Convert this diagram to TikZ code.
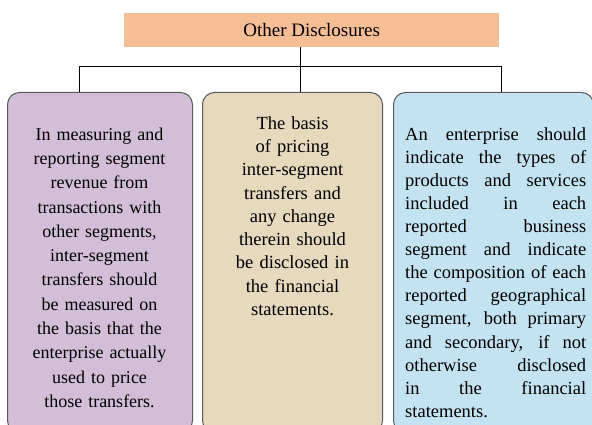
\documentclass[tikz,border=0pt]{standalone}
\usepackage{fontspec}
\setmainfont{Liberation Serif}
\tolerance=10000
\hbadness=10000
\definecolor{titlefill}{HTML}{F6BE95}
\definecolor{lilac}{HTML}{D2BED8}
\definecolor{beige}{HTML}{E6D9BD}
\definecolor{skyblue}{HTML}{C3E3F3}
\definecolor{boxline}{HTML}{5A5A5A}
\begin{document}
\begin{tikzpicture}[x=1pt,y=-1pt,
  panel/.style={draw=boxline, line width=1pt, rounded corners=12pt, anchor=north west, inner sep=0pt},
  wire/.style={draw=black, line width=1pt},
  paneltext/.style={anchor=north, inner sep=0pt, text width=184pt, align=center}
]
\useasboundingbox (0,0) rectangle (592,425);
\clip (0,0) rectangle (592,425);
\fill[white] (0,0) rectangle (592,425);

\node[fill=titlefill, anchor=north west, minimum width=375pt, minimum height=34pt, inner sep=0pt,
      font=\fontsize{19}{22}\selectfont] (title) at (124,13) {Other Disclosures};

\node[panel, fill=lilac, minimum width=185pt, minimum height=340pt] (bl) at (7,92) {};
\node[panel, fill=beige, minimum width=180pt, minimum height=340pt] (bm) at (202,92) {};
\node[panel, fill=skyblue, minimum width=200pt, minimum height=340pt] (br) at (393,92) {};

\coordinate (jL) at (79,67);
\coordinate (jM) at (300,67);
\coordinate (jR) at (501,67);
\draw[wire] (title.south -| jM) -- (jM);
\draw[wire] (jL |- bl.north) -- (jL) -- (jR) -- (jR |- br.north);
\draw[wire] (jM) -- (jM |- bm.north);

\node[paneltext, font=\fontsize{18}{24.3}\selectfont] (tl) at (99.5,126)
{\rule{0pt}{14pt}In measuring and\\ reporting segment\\ revenue from\\ transactions with\\ other segments,\\ inter-segment\\ transfers should\\ be measured on\\ the basis that the\\ enterprise actually\\ used to price\\ those transfers.};

\node[paneltext, font=\fontsize{18.5}{23.3}\selectfont] (tm) at (292.5,115)
{\rule{0pt}{14pt}The basis\\ of pricing\\ inter-segment\\ transfers and\\ any change\\ therein should\\ be disclosed in\\ the financial\\ statements.};

\node[anchor=north west, inner sep=0pt, text width=181pt, align=justify,
      font=\fontsize{18.5}{23.1}\selectfont] (tr) at (405,126)
{\rule{0pt}{14pt}An enterprise should\linebreak indicate the types of\linebreak products and services\linebreak included in each\linebreak reported business\linebreak segment and indicate\linebreak the composition of each\linebreak reported geographical\linebreak segment, both primary\linebreak and secondary, if not\linebreak otherwise disclosed\linebreak in the financial\linebreak statements.};
\end{tikzpicture}
\end{document}
